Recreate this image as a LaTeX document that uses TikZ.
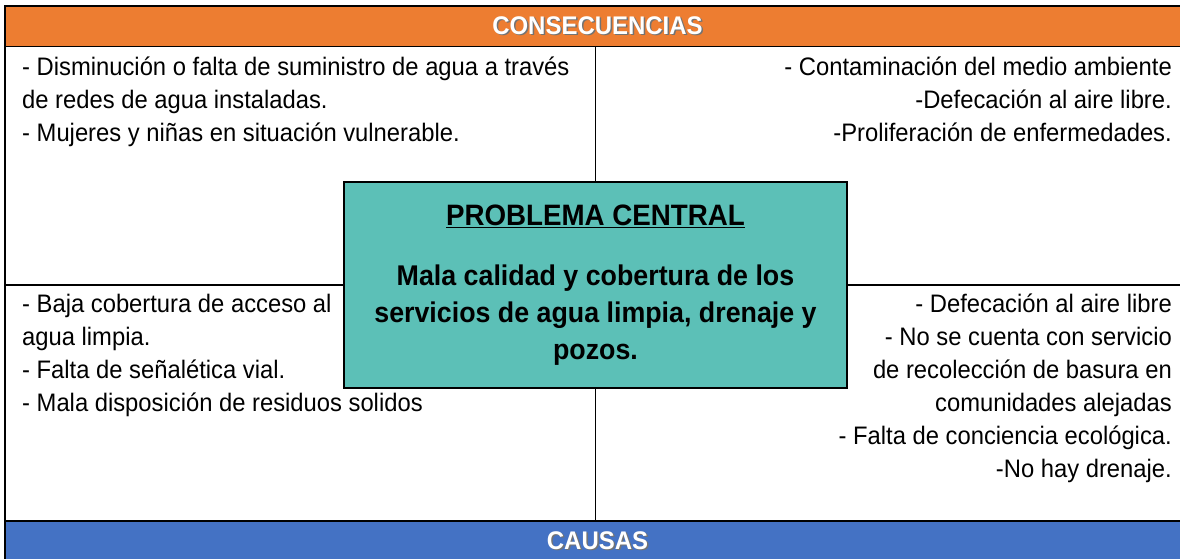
\documentclass[tikz,border=0pt]{standalone}
\usepackage{fontspec}
\setmainfont{Liberation Sans}[FakeStretch=0.94]
\usetikzlibrary{positioning}
\definecolor{conseqorange}{HTML}{ED7D31}
\definecolor{causablue}{HTML}{4472C4}
\definecolor{problemteal}{HTML}{5CC0B7}
\newcommand\shadowed[1]{\makebox[0pt][l]{\kern1.5pt\raisebox{-1.5pt}{\textcolor{black!55}{#1}}}#1}
\tikzset{
    band/.style = {
        draw,
        line width=1.5pt,
        anchor=north west,
        minimum width=1185pt,
        minimum height=40.5pt,
        inner sep=0pt,
        outer sep=0pt,
        text=white,
        font=\fontsize{25.5}{30}\selectfont\bfseries,
        },
    problem/.style = {
        draw,
        line width=1.8pt,
        fill=problemteal,
        minimum width=503pt,
        minimum height=206pt,
        inner sep=0pt,
        align=center,
        font=\fontsize{28.5}{37}\selectfont\bfseries,
        },
    cell/.style = {
        inner sep=0pt,
        font=\fontsize{25.3}{33}\selectfont,
        },
    rule/.style = {
        line width=1.5pt,
        },
}

\begin{document}
\begin{tikzpicture}[x=1pt,y=-1pt]
    \useasboundingbox (0,0) rectangle (1180,558);

    \node[band, fill=conseqorange] (conseq) at (5,6) {\shadowed{CONSECUENCIAS}};
    \node[band, fill=causablue] (causas) at (5,521) {\shadowed{CAUSAS}};
    \node[problem] (problema) at (595.5,285) {{\fontsize{29.5}{37}\selectfont\underline{PROBLEMA CENTRAL}}\\[23pt]
        Mala calidad y cobertura de los\\
        servicios de agua limpia, drenaje y\\
        pozos.};

    \coordinate (midleft) at (problema.west -| conseq.west);
    \coordinate (midright) at (problema.east -| conseq.east);

    \draw[rule] (problema.north) -- (problema.north |- conseq.south);
    \draw[rule] (problema.south) -- (problema.south |- causas.north);
    \draw[rule] (problema.west) -- (midleft);
    \draw[rule] (problema.east) -- (midright);
    \draw[rule] (conseq.south west) -- (causas.north west);

    \node[cell, align=left, below right=5.4pt and 17pt of conseq.south west] (conseqleft)
        {\strut- Disminución o falta de suministro de agua a través\\
        de redes de agua instaladas.\\
        - Mujeres y niñas en situación vulnerable.};
    \node[cell, align=right, below left=5.4pt and 18pt of conseq.south east] (conseqright)
        {\strut- Contaminación del medio ambiente\\
        -Defecación al aire libre.\\
        -Proliferación de enfermedades.};
    \node[cell, align=left, below right=3.9pt and 17pt of midleft] (causaleft)
        {\strut- Baja cobertura de acceso al\\
        agua limpia.\\
        - Falta de señalética vial.\\
        - Mala disposición de residuos solidos};
    \node[cell, align=right, below left=3.9pt and 18pt of midright] (causaright)
        {\strut- Defecación al aire libre\\
        - No se cuenta con servicio\\
        de recolección de basura en\\
        comunidades alejadas\\
        - Falta de conciencia ecológica.\\
        -No hay drenaje.};
\end{tikzpicture}
\end{document}
